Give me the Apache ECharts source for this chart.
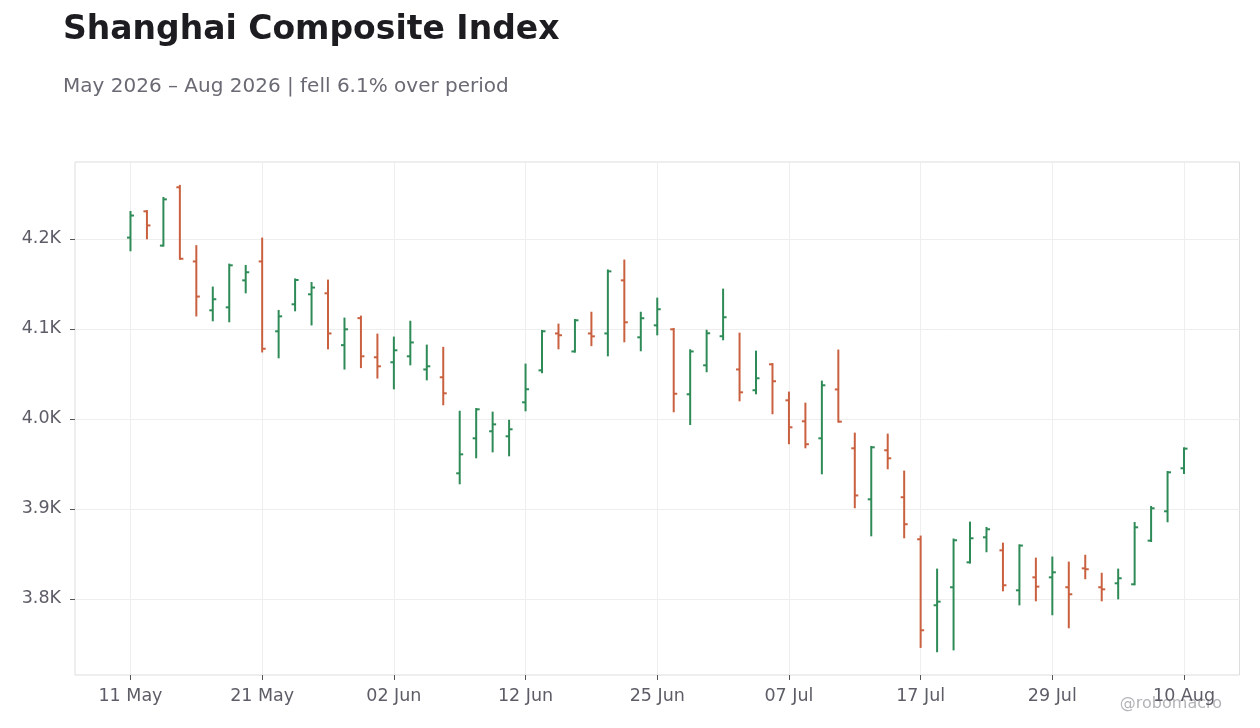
<!DOCTYPE html>
<html>
<head>
<meta charset="utf-8">
<title>Shanghai Composite Index</title>
<script src="https://cdn.jsdelivr.net/npm/echarts@6/dist/echarts.min.js"></script>
<style>
    html, body {margin: 0; padding: 0; background: #fff;}
    #chart {width: 1260px; height: 728px;}
</style>
</head>
<body>
<div id="chart"></div>
<script>
// trading days, May - Aug 2026
const dates = [
    '11 May', '12 May', '13 May', '14 May', '15 May', '18 May', '19 May', '20 May', '21 May', '22 May',
    '25 May', '26 May', '27 May', '28 May', '29 May', '01 Jun', '02 Jun', '03 Jun', '04 Jun', '05 Jun',
    '08 Jun', '09 Jun', '10 Jun', '11 Jun', '12 Jun', '15 Jun', '16 Jun', '17 Jun', '18 Jun', '22 Jun',
    '23 Jun', '24 Jun', '25 Jun', '26 Jun', '29 Jun', '30 Jun', '01 Jul', '02 Jul', '03 Jul', '06 Jul',
    '07 Jul', '08 Jul', '09 Jul', '10 Jul', '13 Jul', '14 Jul', '15 Jul', '16 Jul', '17 Jul', '20 Jul',
    '21 Jul', '22 Jul', '23 Jul', '24 Jul', '27 Jul', '28 Jul', '29 Jul', '30 Jul', '31 Jul', '03 Aug',
    '04 Aug', '05 Aug', '06 Aug', '07 Aug', '10 Aug'
];
const opens = [
    4201.5, 4230.7, 4192.6, 4257.4, 4175, 4120.7, 4124, 4154, 4175, 4097.4,
    4127.4, 4138.5, 4139.6, 4082, 4112, 4068.5, 4063, 4069.6, 4055, 4046.3,
    3939.6, 3978.5, 3986.3, 3980.7, 4018.5, 4054, 4095, 4075, 4095, 4095,
    4154, 4090.7, 4104, 4099.6, 4027.4, 4059.6, 4091.9, 4055, 4031.9, 4060.7,
    4020.7, 3997.4, 3978.5, 4032.8, 3967.4, 3910.7, 3965.2, 3913, 3866.3, 3793,
    3813, 3840.7, 3868.5, 3854, 3809.6, 3824, 3824, 3813, 3834, 3813,
    3817.4, 3816.3, 3864.8, 3897.4, 3945.2
];
const highs = [
    4230, 4231, 4245.5, 4259, 4192, 4146, 4171.5, 4170, 4200.4, 4120,
    4155, 4151, 4153.7, 4111.5, 4113.7, 4093.7, 4090.4, 4108, 4081.5, 4079,
    4008, 4011, 4007, 3998, 4060.4, 4097.8, 4104.8, 4110, 4118, 4165,
    4176, 4118, 4133.7, 4100, 4076.3, 4098, 4143.7, 4094.8, 4074.8, 4061,
    4029.3, 4017, 4041.5, 4076, 3983.7, 3968.9, 3982.6, 3941.5, 3869.3, 3832.6,
    3866, 3884.8, 3878.9, 3861.5, 3859.6, 3844.8, 3846, 3840.4, 3848, 3828,
    3832.6, 3884.4, 3902.2, 3941, 3967.4
];
const lows = [
    4187.4, 4200.7, 4192.6, 4178, 4115, 4109.6, 4108.5, 4140.7, 4075, 4068.5,
    4120.7, 4105, 4078.5, 4056, 4057.6, 4046, 4034, 4060.7, 4044, 4016.3,
    3928.5, 3957.4, 3964, 3959.6, 4009.6, 4051.9, 4078.5, 4074.8, 4082, 4070.7,
    4086.3, 4076.3, 4094, 4008.5, 3994.4, 4053, 4088.5, 4020.7, 4028.5, 4006.3,
    3973, 3968.5, 3939.6, 3997, 3901.9, 3870.7, 3945.2, 3868.5, 3746.7, 3741.9,
    3744, 3840.4, 3853, 3809.6, 3794, 3798.5, 3783, 3768.5, 3823, 3798.5,
    3800.7, 3816.3, 3864.4, 3886.3, 3940
];
const closes = [
    4226, 4215, 4244, 4178, 4136, 4133, 4170.7, 4163, 4078, 4114,
    4154.4, 4146, 4095, 4099.6, 4069.6, 4058.5, 4076.3, 4085, 4058.5, 4028.5,
    3960.7, 4010.7, 3994, 3988.5, 4033, 4097.4, 4093, 4109.6, 4091.8, 4164,
    4107.4, 4111.9, 4121.9, 4028, 4075, 4095.2, 4113, 4029.6, 4045.2, 4041.9,
    3990.7, 3971.9, 4037.4, 3997, 3915, 3968.5, 3956.3, 3883, 3765.2, 3797,
    3865.2, 3867.4, 3877.4, 3815.2, 3859.3, 3813.7, 3829.6, 3805.2, 3833, 3810.7,
    3823, 3879.6, 3900.7, 3940.7, 3967
];
const xTicks = [0, 8, 16, 24, 32, 40, 48, 56, 64];
const yTicks = [3800, 3900, 4000, 4100, 4200];

const UP = '#2e8b57';
const DOWN = '#c9603f';
const FONT = 'DejaVu Sans';

const ohlc = dates.map((d, i) => [i, opens[i], closes[i], lows[i], highs[i]]);

function renderOhlc(params, api) {
    const i = api.value(0);
    const o = api.coord([i, api.value(1)]);
    const c = api.coord([i, api.value(2)]);
    const l = api.coord([i, api.value(3)]);
    const h = api.coord([i, api.value(4)]);
    const color = api.value(2) >= api.value(1) ? UP : DOWN;
    const style = {stroke: color, lineWidth: 2};
    return {
        type: 'group',
        children: [
            {type: 'line', shape: {x1: h[0], y1: h[1] - 1, x2: l[0], y2: l[1] + 1}, style},
            {type: 'line', shape: {x1: o[0] - 3.5, y1: o[1], x2: o[0], y2: o[1]}, style},
            {type: 'line', shape: {x1: c[0], y1: c[1], x2: c[0] + 3.5, y2: c[1]}, style}
        ]
    };
}

const chart = echarts.init(document.getElementById('chart'));
chart.setOption({
    backgroundColor: '#fff',
    animation: false,
    textStyle: {fontFamily: FONT},
    title: [{
        text: 'Shanghai Composite Index',
        left: 58,
        top: 9,
        textStyle: {fontFamily: FONT, fontSize: 33, fontWeight: 'bold', color: '#1c1c21'}
    }, {
        text: 'May 2026 \u2013 Aug 2026 | fell 6.1% over period',
        left: 58,
        top: 72,
        textStyle: {fontFamily: FONT, fontSize: 20, fontWeight: 'normal', color: '#6a6a74'}
    }],
    grid: {
        left: 75,
        right: 20.5,
        top: 162,
        bottom: 53,
        show: true,
        borderColor: '#dddddd',
        borderWidth: 1
    },
    xAxis: {
        type: 'value',
        min: -3.37,
        max: 67.37,
        axisLine: {show: false, onZero: false},
        axisTick: {
            show: true,
            length: 5,
            customValues: xTicks,
            lineStyle: {color: '#555'}
        },
        axisLabel: {
            customValues: xTicks,
            margin: 12,
            fontSize: 17.5,
            color: '#5c5d66',
            formatter: v => dates[Math.round(v)] || ''
        },
        splitLine: {show: true, lineStyle: {color: '#eeeeee'}}
    },
    yAxis: {
        type: 'value',
        min: 3715.5,
        max: 4285.5,
        axisLine: {show: false, onZero: false},
        axisTick: {
            show: true,
            length: 5,
            customValues: yTicks,
            lineStyle: {color: '#555'}
        },
        axisLabel: {
            customValues: yTicks,
            margin: 14,
            fontSize: 17.5,
            color: '#5c5d66',
            formatter: v => (v / 1000).toFixed(1) + 'K'
        },
        splitLine: {show: true, lineStyle: {color: '#eeeeee'}}
    },
    series: [{
        type: 'custom',
        name: 'SSE',
        renderItem: renderOhlc,
        encode: {x: 0, y: [1, 2, 3, 4]},
        data: ohlc
    }],
    graphic: [{
        type: 'text',
        x: 1222,
        y: 704,
        style: {
            text: '@robomacro',
            align: 'right',
            verticalAlign: 'middle',
            fill: '#b4b4b8',
            font: '16px "DejaVu Sans"'
        }
    }]
});
</script>
</body>
</html>
